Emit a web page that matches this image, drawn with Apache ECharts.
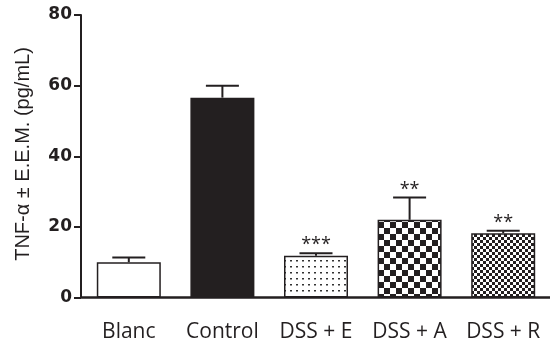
<!DOCTYPE html>
<html>
<head>
<meta charset="utf-8">
<script src="https://cdn.jsdelivr.net/npm/echarts@6/dist/echarts.min.js"></script>
<style>
  html, body { margin: 0; padding: 0; background: #fff; }
  #chart { width: 550px; height: 347px; }
</style>
</head>
<body>
<div id="chart"></div>
<script>
// Groups, mean TNF-α levels and their standard errors
const categories = ['Blanc', 'Control', 'DSS + E', 'DSS + A', 'DSS + R'];
const means = [10.0, 56.6, 11.8, 22.0, 18.2];
const sems = [1.3, 3.4, 0.7, 6.3, 0.7];
const significance = ['', '', '***', '**', '**'];
const yTicks = [0, 20, 40, 60, 80];

const INK = '#231f20';

// Fill patterns for the treated groups
function makeTile(size, draw) {
  const c = document.createElement('canvas');
  c.width = size; c.height = size;
  const ctx = c.getContext('2d');
  ctx.fillStyle = '#fff';
  ctx.fillRect(0, 0, size, size);
  ctx.fillStyle = INK;
  draw(ctx);
  return c;
}
const dotTile = makeTile(6, ctx => { ctx.fillStyle = '#333'; ctx.fillRect(2, 2, 2, 1.5); });
const checkTile = (cell) => makeTile(cell * 2, ctx => {
  ctx.fillRect(0, 0, cell, cell);
  ctx.fillRect(cell, cell, cell, cell);
});
const fills = [
  '#ffffff',
  INK,
  { image: dotTile, repeat: 'repeat' },
  { image: checkTile(6), repeat: 'repeat' },
  { image: checkTile(3), repeat: 'repeat' }
];

const chart = echarts.init(document.getElementById('chart'), null, { renderer: 'canvas' });

chart.setOption({
  animation: false,
  backgroundColor: '#ffffff',
  grid: { left: 82, top: 15, width: 475, height: 282.5 },
  xAxis: {
    type: 'category',
    data: categories,
    axisLine: { lineStyle: { color: INK, width: 2.5 } },
    axisTick: { alignWithLabel: true, length: 8, lineStyle: { color: INK, width: 2.5 } },
    axisLabel: { interval: 0, hideOverlap: false, color: INK, fontFamily: 'Open Sans', fontSize: 21, margin: 24 }
  },
  yAxis: {
    type: 'value',
    min: yTicks[0],
    max: yTicks[yTicks.length - 1],
    interval: 20,
    offset: 1,
    splitLine: { show: false },
    axisLine: { show: true, lineStyle: { color: INK, width: 2 } },
    axisTick: { show: true, length: 7, lineStyle: { color: INK, width: 2 } },
    axisLabel: { color: INK, fontFamily: 'DejaVu Sans', fontWeight: 'bold', fontSize: 17, margin: 9 }
  },
  graphic: [{
    type: 'text',
    x: 23, y: 154,
    rotation: Math.PI / 2,
    style: {
      text: 'TNF-α ± E.E.M. (pg/mL)',
      fill: INK,
      font: '20px "Liberation Sans", Arial, sans-serif',
      align: 'center',
      verticalAlign: 'middle'
    }
  }],
  series: [
    {
      type: 'bar',
      barWidth: 64,
      data: means.map((v, i) => ({
        value: v,
        itemStyle: { color: fills[i], borderColor: INK, borderWidth: 1.5 }
      })),
      z: 2
    },
    {
      type: 'custom',
      z: 3,
      data: means.map((v, i) => [i, v, sems[i]]),
      renderItem: function (params, api) {
        const i = api.value(0);
        const top = api.coord([i, api.value(1)]);
        const cap = api.coord([i, api.value(1) + api.value(2)]);
        const half = 16.5;
        const children = [
          { type: 'line', shape: { x1: top[0], y1: top[1], x2: cap[0], y2: cap[1] },
            style: { stroke: INK, lineWidth: 2 } },
          { type: 'line', shape: { x1: cap[0] - half, y1: cap[1], x2: cap[0] + half, y2: cap[1] },
            style: { stroke: INK, lineWidth: 2 } }
        ];
        const mark = significance[params.dataIndex];
        if (mark) {
          children.push({
            type: 'text',
            x: cap[0], y: cap[1] + 1,
            style: { text: mark, fill: INK, font: '18px "Open Sans", sans-serif',
                     align: 'center', verticalAlign: 'bottom' }
          });
        }
        return { type: 'group', children: children };
      }
    }
  ]
});
</script>
</body>
</html>
